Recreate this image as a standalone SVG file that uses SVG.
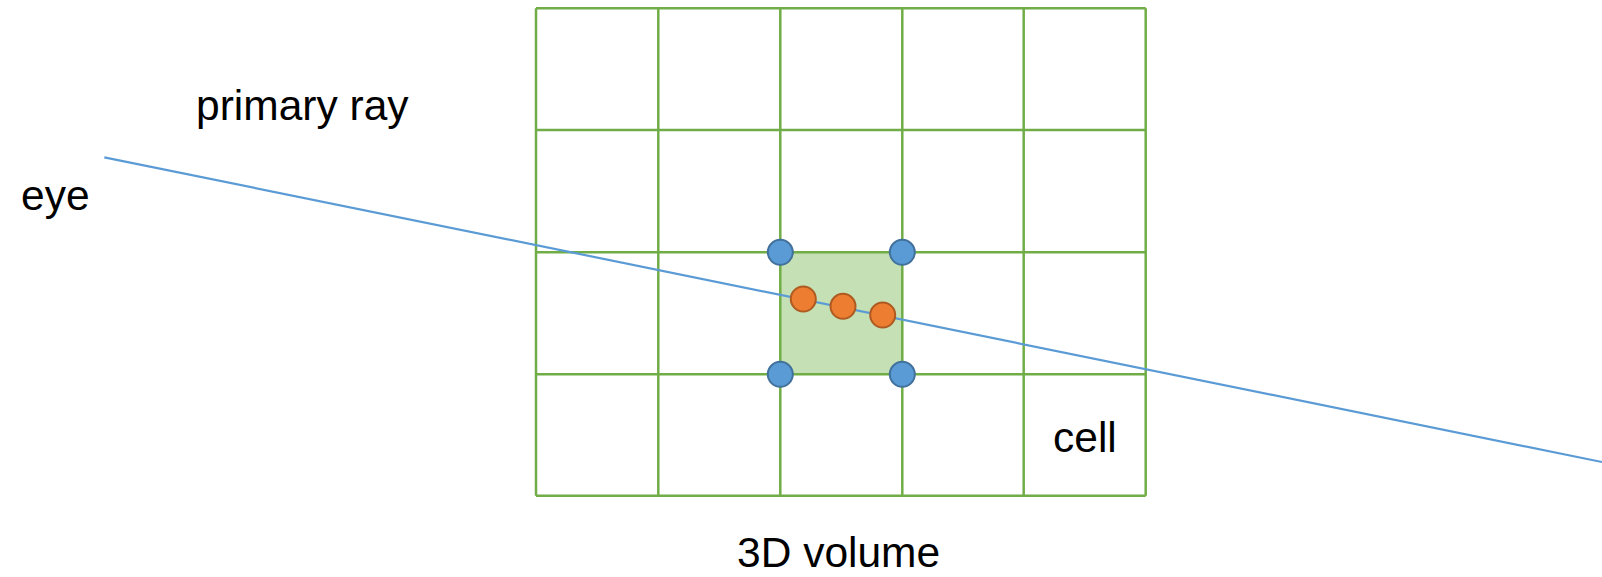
<svg xmlns="http://www.w3.org/2000/svg" width="1602" height="577" viewBox="0 0 1602 577">
  <style>
    .grid { stroke: #70AD47; stroke-width: 2.5; fill: none; }
    .ray { stroke: #5B9BD5; stroke-width: 2.2; fill: none; }
    .corner { fill: #5B9BD5; stroke: #41719C; stroke-width: 2; }
    .sample { fill: #ED7D31; stroke: #AE5A21; stroke-width: 2; }
    .label { font-family: "Liberation Sans", Arial, sans-serif; font-size: 42.5px; fill: #000; }
  </style>
  <rect width="1602" height="577" fill="#ffffff"/>
  <g id="highlighted-cell">
    <rect x="780.3" y="252.3" width="122" height="122" fill="#C5E0B4"/>
  </g>
  <g id="volume-grid" class="grid">
    <line x1="536" y1="8.3" x2="536" y2="495.7"/>
    <line x1="658.3" y1="8.3" x2="658.3" y2="495.7"/>
    <line x1="780.3" y1="8.3" x2="780.3" y2="495.7"/>
    <line x1="902.3" y1="8.3" x2="902.3" y2="495.7"/>
    <line x1="1023.7" y1="8.3" x2="1023.7" y2="495.7"/>
    <line x1="1145.7" y1="8.3" x2="1145.7" y2="495.7"/>
    <line x1="536" y1="8.3" x2="1145.7" y2="8.3"/>
    <line x1="536" y1="130" x2="1145.7" y2="130"/>
    <line x1="536" y1="252.3" x2="1145.7" y2="252.3"/>
    <line x1="536" y1="374.3" x2="1145.7" y2="374.3"/>
    <line x1="536" y1="495.7" x2="1145.7" y2="495.7"/>
  </g>
  <g id="connectors">
    <line id="primary-ray" class="ray" x1="104.3" y1="157.3" x2="1602" y2="462"/>
  </g>
  <g id="corner-points">
    <circle class="corner" cx="780.3" cy="252.3" r="12.5"/>
    <circle class="corner" cx="902.3" cy="252.3" r="12.5"/>
    <circle class="corner" cx="780.3" cy="374.3" r="12.5"/>
    <circle class="corner" cx="902.3" cy="374.3" r="12.5"/>
  </g>
  <g id="sample-points">
    <circle class="sample" cx="803.3" cy="299" r="12.5"/>
    <circle class="sample" cx="843" cy="306.3" r="12.5"/>
    <circle class="sample" cx="882.7" cy="315" r="12.5"/>
  </g>
  <g id="labels">
    <text class="label" x="21" y="210">eye</text>
    <text class="label" x="196" y="120">primary ray</text>
    <text class="label" x="1053" y="452">cell</text>
    <text class="label" x="737" y="567">3D volume</text>
  </g>
</svg>
